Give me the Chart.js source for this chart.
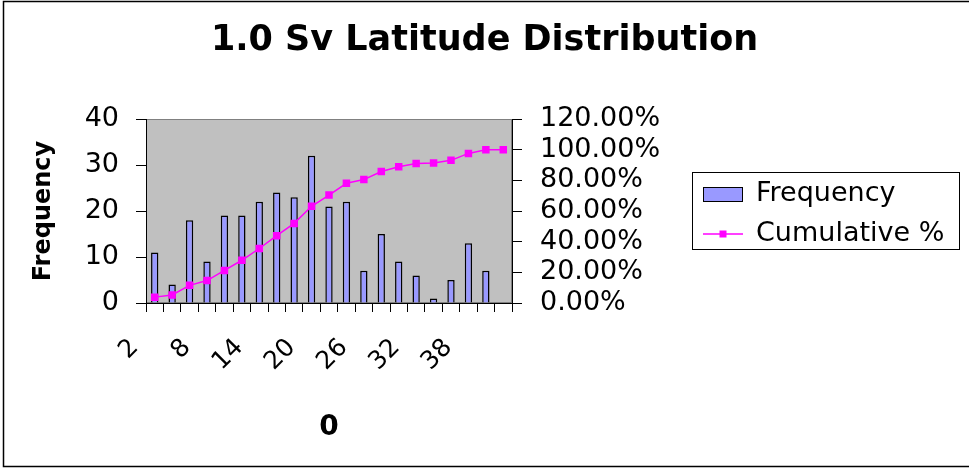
<!DOCTYPE html>
<html>
<head>
<meta charset="utf-8">
<script src="https://cdn.jsdelivr.net/npm/chart.js@4.4.0/dist/chart.umd.min.js"></script>
<style>
  html, body { margin: 0; padding: 0; background: #fff; }
  canvas { display: block; }
</style>
</head>
<body>
<canvas id="latChart" width="969" height="468"></canvas>
<script>
// latitude bins (every 2 degrees) and counts
const latitudes = ["2", "4", "6", "8", "10", "12", "14", "16", "18", "20", "22",
                   "24", "26", "28", "30", "32", "34", "36", "38", "40", "42"];
const frequency = [11, 4, 18, 9, 19, 19, 22, 24, 23, 32, 21, 22, 7, 15, 9, 6, 1, 5, 13, 7, 0];
const cumulativePct = [3.83, 5.23, 11.50, 14.63, 21.25, 27.87, 35.54, 43.90, 51.92, 63.07, 70.38,
                       78.05, 80.49, 85.71, 88.85, 90.94, 91.29, 93.03, 97.56, 100, 100];
const freqTicks = [0, 10, 20, 30, 40];
const pctTicks = [0, 20, 40, 60, 80, 100, 120];

Chart.defaults.font.family = "'DejaVu Sans', sans-serif";
Chart.defaults.color = "#000";

// grey plot area + outer frame, Excel style
const plotBackground = {
    id: "plotBackground",
    beforeDraw(chart) {
        const { ctx, chartArea: a, width, height } = chart;
        ctx.save();
        ctx.fillStyle = "#fff";
        ctx.fillRect(0, 0, width, height);
        ctx.strokeStyle = "#000";
        ctx.lineWidth = 1.5;
        ctx.strokeRect(3.5, 1.5, width + 10, height - 3);
        ctx.fillStyle = "#c0c0c0";
        ctx.fillRect(a.left, a.top, a.right - a.left, a.bottom - a.top);
        ctx.strokeStyle = "#808080";
        ctx.lineWidth = 1;
        ctx.strokeRect(a.left + 0.5, a.top + 0.5, a.right - a.left - 1, a.bottom - a.top - 1);
        ctx.restore();
    }
};

// boxed legend on the right
const boxLegend = {
    id: "boxLegend",
    afterDraw(chart) {
        const ctx = chart.ctx;
        const bars = chart.data.datasets[0];
        const line = chart.data.datasets[1];
        ctx.save();
        ctx.strokeStyle = "#000";
        ctx.lineWidth = 1;
        ctx.strokeRect(692.5, 172.5, 267, 77);

        ctx.fillStyle = bars.backgroundColor;
        ctx.fillRect(703, 187, 40, 15);
        ctx.strokeRect(703.5, 187.5, 39, 14);

        ctx.strokeStyle = line.borderColor;
        ctx.lineWidth = 1.5;
        ctx.beginPath();
        ctx.moveTo(703, 234);
        ctx.lineTo(743, 234);
        ctx.stroke();
        ctx.fillStyle = line.pointBackgroundColor;
        ctx.fillRect(719.5, 230.5, 7, 7);

        ctx.fillStyle = "#000";
        ctx.font = "27px 'DejaVu Sans'";
        ctx.textBaseline = "middle";
        ctx.fillText(bars.label, 756, 194);
        ctx.fillText(line.label, 756, 234);
        ctx.restore();
    }
};

const ctx = document.getElementById("latChart").getContext("2d");
new Chart(ctx, {
    data: {
        labels: latitudes,
        datasets: [{
            type: "bar",
            label: "Frequency",
            data: frequency,
            yAxisID: "y",
            backgroundColor: "#9999ff",
            borderColor: "#000",
            borderWidth: 1.5,
            barPercentage: 0.42,
            categoryPercentage: 1.0,
            order: 1
        }, {
            type: "line",
            label: "Cumulative %",
            data: cumulativePct,
            yAxisID: "y1",
            borderColor: "#ff00ff",
            borderWidth: 1.5,
            pointStyle: "rect",
            pointRadius: 5.3,
            pointBorderWidth: 0,
            pointBackgroundColor: "#ff00ff",
            pointBorderColor: "#ff00ff",
            tension: 0,
            order: 0
        }]
    },
    options: {
        responsive: false,
        animation: false,
        devicePixelRatio: 1,
        layout: { padding: 0 },
        plugins: {
            legend: { display: false },
            tooltip: { enabled: false },
            title: {
                display: true,
                text: "1.0 Sv Latitude Distribution",
                font: { size: 35, weight: "bold" },
                color: "#000",
                padding: { top: 20, bottom: 57 }
            }
        },
        scales: {
            x: {
                type: "category",
                offset: true,
                grid: { offset: true, drawOnChartArea: false, drawTicks: true, tickLength: 9, color: "#000" },
                border: { display: true, color: "#000", width: 1 },
                ticks: {
                    autoSkip: false,
                    minRotation: 45,
                    maxRotation: 45,
                    padding: 21,
                    labelOffset: -20,
                    font: { size: 25 },
                    callback: (v, i) => i % 3 === 0 ? latitudes[i] : ""
                },
                title: {
                    display: true,
                    text: "0",
                    font: { size: 28, weight: "bold" },
                    padding: { top: 0, bottom: 23 }
                },
                afterFit: s => { s.height = 165; }
            },
            y: {
                position: "left",
                min: freqTicks[0],
                max: freqTicks[freqTicks.length - 1],
                afterBuildTicks: s => { s.ticks = freqTicks.map(v => ({ value: v })); },
                grid: { drawOnChartArea: false, tickLength: 10, color: "#000" },
                border: { display: true, color: "#000", width: 1 },
                ticks: { autoSkip: false, padding: 17, font: { size: 27 } },
                title: {
                    display: true,
                    text: "Frequency",
                    font: { size: 24, weight: "bold" },
                    padding: { top: 29, bottom: 0 }
                },
                afterFit: s => { s.width = 146; }
            },
            y1: {
                position: "right",
                min: pctTicks[0],
                max: pctTicks[pctTicks.length - 1],
                afterBuildTicks: s => { s.ticks = pctTicks.map(v => ({ value: v })); },
                grid: { drawOnChartArea: false, tickLength: 10, color: "#000" },
                border: { display: true, color: "#000", width: 1 },
                ticks: {
                    autoSkip: false,
                    padding: 18,
                    font: { size: 27 },
                    callback: v => v.toFixed(2) + "%"
                },
                afterFit: s => { s.width = 457; }
            }
        }
    },
    plugins: [plotBackground, boxLegend]
});
</script>
</body>
</html>
